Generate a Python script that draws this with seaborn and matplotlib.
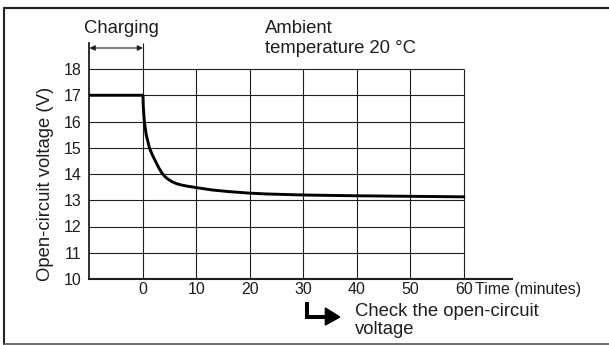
import matplotlib
matplotlib.use("Agg")
import matplotlib.pyplot as plt
from matplotlib.lines import Line2D
from matplotlib.patches import Polygon
import seaborn as sns
import pandas as pd

# Open-circuit voltage after charging stops (time in minutes, voltage in V)
time_min = [-10, 0, 0.05, 0.25, 0.6, 1.2, 1.7, 2.3, 3.0, 3.5, 4.1, 4.7, 5.5, 6.3, 7.2, 8.2, 10,
            13, 16, 20, 23, 30, 40, 50, 60]
voltage = [17.0, 17.0, 16.6, 16.0, 15.5, 15.0, 14.75, 14.5, 14.22, 14.05, 13.9, 13.8, 13.7,
           13.63, 13.58, 13.54, 13.48, 13.39, 13.33, 13.27, 13.24, 13.2, 13.17, 13.15, 13.13]

x_ticks = [0, 10, 20, 30, 40, 50, 60]
x_tick_labels = ["0", "10", "20", "30", "40", "50", "60"]
y_ticks = [10, 11, 12, 13, 14, 15, 16, 17, 18]
y_tick_labels = ["10", "11", "12", "13", "14", "15", "16", "17", "18"]

charge_start = -10
charge_end = 0
check_time = 30
ambient_temp = 20

sns.set_theme(style="white")
plt.rcParams["font.family"] = ["Liberation Sans", "DejaVu Sans"]

INK = "#1e1e1e"
W, H = 609, 345
fig = plt.figure(figsize=(W / 100, H / 100), dpi=100)
ax = fig.add_axes([89.5 / W, 66 / H, 422.5 / W, 236.25 / H])
ax.set_facecolor("white")

ax.set_xlim(charge_start, 69)
ax.set_ylim(10, 19)

# grid drawn only over the recorded window
ax.hlines(y_ticks[1:], charge_start, x_ticks[-1], color=INK, lw=0.8, zorder=1)
ax.vlines(x_ticks, y_ticks[0], y_ticks[-1], color=INK, lw=0.8, zorder=1)
ax.vlines(charge_end, y_ticks[-1], 19, color=INK, lw=0.8, zorder=1, clip_on=False)

df = pd.DataFrame({"t": time_min, "v": voltage})
sns.lineplot(data=df, x="t", y="v", ax=ax, color="black", lw=2.1, sort=False,
             estimator=None, zorder=3)
for ln in ax.get_lines():
    ln.set_solid_joinstyle("round")

for s in ["top", "right"]:
    ax.spines[s].set_visible(False)
ax.spines["left"].set_color(INK)
ax.spines["left"].set_linewidth(1.3)
ax.spines["bottom"].set_color(INK)
ax.spines["bottom"].set_linewidth(1.5)

ax.set_xticks(x_ticks)
ax.set_xticklabels(x_tick_labels)
ax.set_yticks(y_ticks)
ax.set_yticklabels(y_tick_labels)
ax.tick_params(axis="both", length=0, labelsize=11.5, colors=INK)
ax.tick_params(axis="x", pad=2)
ax.tick_params(axis="y", pad=5.5)
ax.set_xlabel("")
ax.set_ylabel("Open-circuit voltage (V)", fontsize=13.3, color=INK)
ax.yaxis.set_label_coords(-0.0843, 0.404)

ax.text(62.0, 9.417, "Time (minutes)", fontsize=11.5, color=INK, ha="left", va="baseline")

# charging period
ax.annotate("", xy=(charge_start, 18.8), xytext=(charge_end, 18.8),
            arrowprops=dict(arrowstyle="<|-|>", color=INK, lw=0.8, mutation_scale=8,
                            shrinkA=0, shrinkB=0), annotation_clip=False)
ax.text((charge_start + charge_end) / 2 + 1, 19.38, "Charging", fontsize=13.3, color=INK,
        ha="center", va="baseline")

ax.text(22.8, 19.38, "Ambient", fontsize=13.3, color=INK, ha="left", va="baseline")
ax.text(22.8, 18.62, f"temperature {ambient_temp} °C", fontsize=13.3, color=INK,
        ha="left", va="baseline")

# pointer to the check time
ax.plot([check_time + 0.65, check_time + 0.65, check_time + 4.0], [9.124, 8.552, 8.552],
        color="black", lw=2.9, solid_joinstyle="miter", solid_capstyle="butt",
        clip_on=False, zorder=4)
ax.add_patch(Polygon([(check_time + 4.1, 8.895), (check_time + 6.8, 8.552),
                      (check_time + 4.1, 8.248)], closed=True, color="black",
                     clip_on=False, zorder=4))
ax.text(check_time + 9.6, 8.59, "Check the open-circuit", fontsize=13.3, color=INK,
        ha="left", va="baseline")
ax.text(check_time + 9.6, 7.905, "voltage", fontsize=13.3, color=INK,
        ha="left", va="baseline")

# outer frame
fig.add_artist(Line2D([4 / W, 4 / W], [1 - 7.5 / H, 1 - 343.5 / H], color="#222222", lw=1.5))
fig.add_artist(Line2D([4 / W, 1], [1 - 7.5 / H, 1 - 7.5 / H], color="#222222", lw=1.6))
fig.add_artist(Line2D([4 / W, 1], [1 - 343.5 / H, 1 - 343.5 / H], color="#555555", lw=1.2))

fig.savefig("out.png", dpi=100, facecolor="white")
